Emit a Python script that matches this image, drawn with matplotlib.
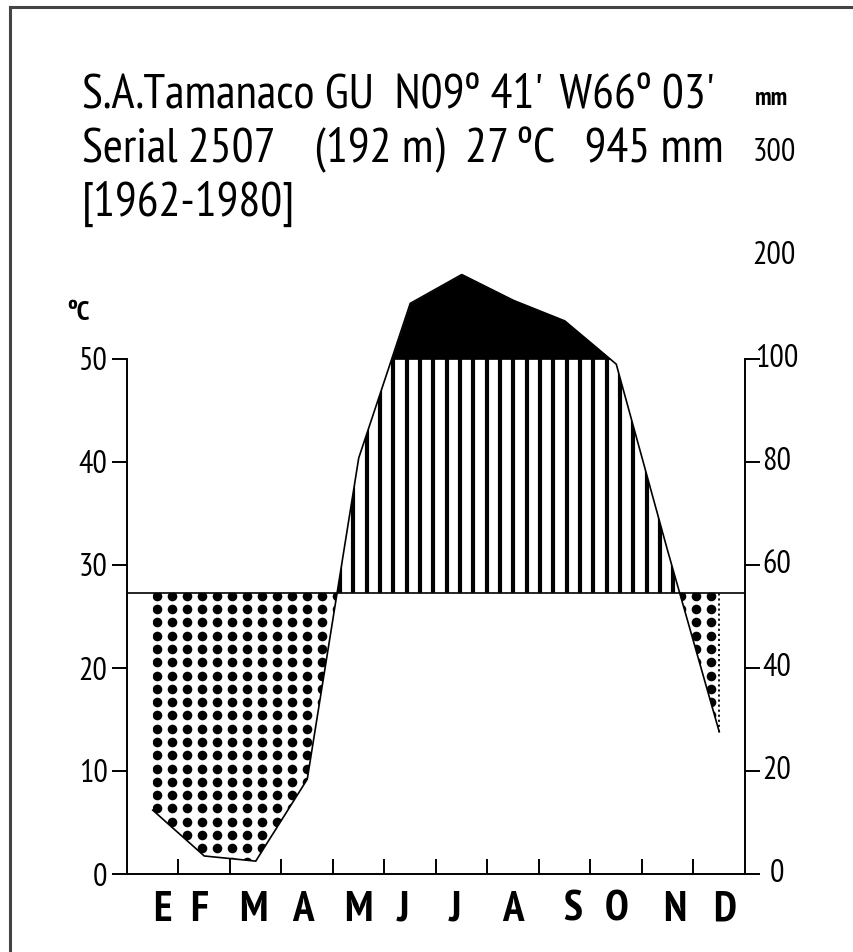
import numpy as np
import matplotlib
matplotlib.use("Agg")
import matplotlib.pyplot as plt
from matplotlib import font_manager

# ---------------- data ----------------
months = ['E', 'F', 'M', 'A', 'M', 'J', 'J', 'A', 'S', 'O', 'N', 'D']
temp_c = [27.3, 27.3, 27.3, 27.3, 27.3, 27.3, 27.3, 27.3, 27.3, 27.3, 27.3, 27.3]
precip_mm = [12.4, 3.5, 2.5, 18.4, 80.8, 154, 182, 157, 137, 99, 62.7, 27.6]
temp_ticks = [0, 10, 20, 30, 40, 50]
precip_ticks = [0, 20, 40, 60, 80, 100]
precip_upper_labels = [200, 300]
title_lines = ["S.A.Tamanaco GU  N09º 41'  W66º 03'",
               "Serial 2507    (192 m)  27 ºC   945 mm",
               "[1962-1980]"]
# month label positions (layout, in month units)
month_label_x = [0.68, 1.40, 2.45, 3.42, 4.49, 5.36, 6.37, 7.50, 8.66, 9.51, 10.64, 11.61]

# ---------------- fonts ----------------
avail = {f.name for f in font_manager.fontManager.ttflist}
narrow = 'PT Sans Narrow' if 'PT Sans Narrow' in avail else 'Liberation Sans'
plt.rcParams['font.family'] = [narrow, 'DejaVu Sans']

W, H, DPI = 854, 952, 100
fig = plt.figure(figsize=(W / DPI, H / DPI), dpi=DPI)

# axes: x 127..745 px, y bottom 874 px, 10 degC = 103 px
x0, x1, yb = 127, 745, 874
ymax = 80
ax = fig.add_axes([x0 / W, (H - yb) / H, (x1 - x0) / W, ymax * 10.3 / H])
ax.set_xlim(0, 12)
ax.set_ylim(0, ymax)

def p2y(p):
    p = np.asarray(p, dtype=float)
    return np.where(p <= 100, p / 2.0, 50 + (p - 100) * 0.1)

x = np.arange(12) + 0.5
t = np.asarray(temp_c)
yp = p2y(precip_mm)

# --- wet region (stripes) ---
wet = ax.fill_between(x, t, yp, where=yp >= t, interpolate=True,
                      facecolor='none', edgecolor='none')
wet_path = wet.get_paths()[0]
stripe_x = np.arange(5.17 - 0.259 * 20, 12, 0.259)
vl = ax.vlines(stripe_x, 0, 50, colors='black', linewidth=3.0, zorder=2)
vl.set_clip_path(wet_path, ax.transData)

# --- black region above 100 mm ---
ax.fill_between(x, 50, yp, where=yp >= 50, interpolate=True,
                facecolor='black', edgecolor='black', linewidth=0.5, zorder=3)

# --- dry region (dots) ---
dry = ax.fill_between(x, yp, t, where=yp <= t, interpolate=True,
                      facecolor='none', edgecolor='none')
gx = np.arange(0.577, 12, 0.291)
gy = np.arange(27.0, -1, -1.29)
GX, GY = np.meshgrid(gx, gy)
for pth in dry.get_paths():
    sc = ax.scatter(GX.ravel(), GY.ravel(), s=48, c='black', marker='o',
                    linewidths=0, zorder=2)
    sc.set_clip_path(pth, ax.transData)

# dotted closing line at December
ax.plot([x[-1], x[-1]], [yp[-1], t[-1]], color='black', lw=1.3,
        linestyle=(0, (1.2, 1.6)), zorder=4)

# --- curves ---
ax.plot(x, yp, color='black', lw=1.2, zorder=5)
xt = np.r_[0, x, 12]
tt = np.r_[t[0], t, t[-1]]
ax.plot(xt, tt, color='black', lw=1.2, zorder=5)

# --- spines and ticks ---
ax.spines['top'].set_visible(False)
ax.spines['left'].set_bounds(0, 50)
ax.spines['right'].set_bounds(0, 50)
ax.spines['bottom'].set_bounds(0, 12)
for s in ['left', 'right', 'bottom']:
    ax.spines[s].set_linewidth(1.4)

ax.set_yticks(temp_ticks)
ax.set_yticklabels([str(v) for v in temp_ticks])
ax.tick_params(axis='y', direction='out', length=11, width=1.4, pad=3,
               labelsize=23, left=True, right=True, labelright=False)
ax.set_xticks(np.arange(1, 12))
ax.set_xticklabels([])
ax.tick_params(axis='x', direction='in', length=11, width=1.4)

# right-hand precipitation labels (centred like the reference)
lab_x = 12 + 32 / 51.5
for v, yv in zip(precip_ticks, p2y(precip_ticks)):
    ax.text(lab_x, yv, str(v), ha='center', va='center', fontsize=23,
            clip_on=False)
for v in precip_upper_labels:
    ax.text(lab_x - 0.05, p2y(v), str(v), ha='center', va='center',
            fontsize=23, clip_on=False)
ax.text(lab_x - 0.1, 75.3, 'mm', ha='center', va='center', fontsize=18,
        fontweight='bold', clip_on=False)
ax.text(-49 / 51.5, 54.5, 'ºC', ha='center', va='center', fontsize=20,
        fontweight='bold', clip_on=False)

# month labels
for lx, m in zip(month_label_x, months):
    ax.text(lx, -3.5, m, ha='center', va='center', fontsize=31,
            fontweight='bold', clip_on=False)

# title lines
for i, line in enumerate(title_lines):
    fig.text(82 / W, 1 - (108 + 54 * i) / H, line, ha='left',
             va='baseline', fontsize=35)

# frame
fig.add_artist(plt.Line2D([10 / W, 10 / W], [0, 1 - 7 / H], color='#444444',
                          lw=2.2, transform=fig.transFigure))
fig.add_artist(plt.Line2D([10 / W, 1], [1 - 7 / H, 1 - 7 / H], color='#444444',
                          lw=2.2, transform=fig.transFigure))

fig.savefig('out.png', dpi=DPI)
